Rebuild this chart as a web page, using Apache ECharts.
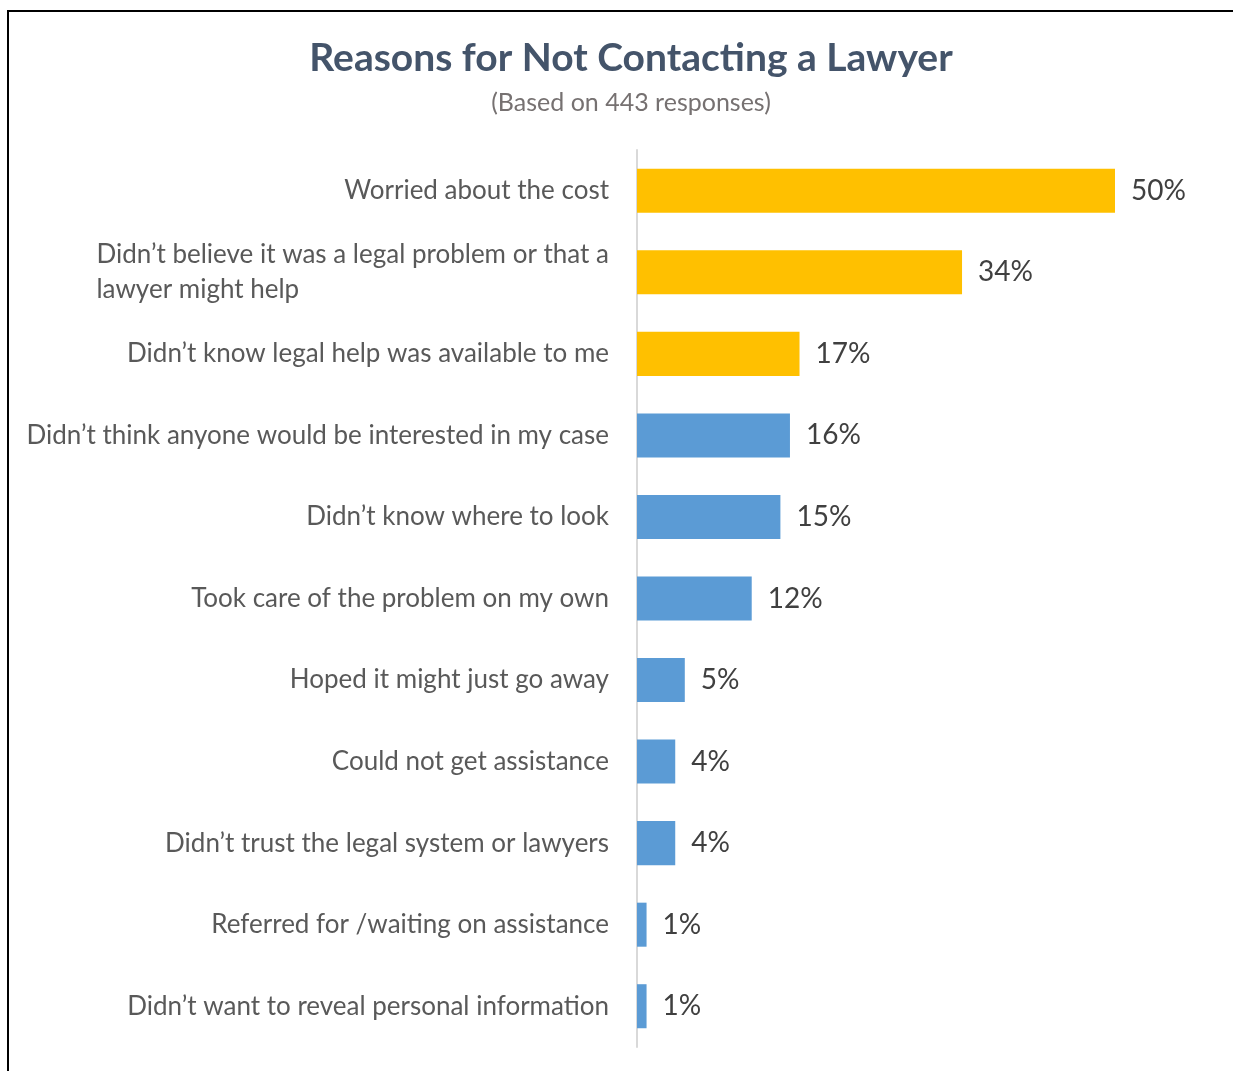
<!DOCTYPE html>
<html>
<head>
<meta charset="utf-8">
<script src="https://cdn.jsdelivr.net/npm/echarts@6/dist/echarts.min.js"></script>
<style>
  html, body { margin: 0; padding: 0; background: #ffffff; }
  #chart { width: 1233px; height: 1071px; }
</style>
</head>
<body>
<div id="chart"></div>
<script>
// Survey reasons, top to bottom
const categories = [
  "Worried about the cost",
  "Didn\u2019t believe it was a legal problem or that a\nlawyer might help",
  "Didn\u2019t know legal help was available to me",
  "Didn\u2019t think anyone would be interested in my case",
  "Didn\u2019t know where to look",
  "Took care of the problem on my own",
  "Hoped it might just go away",
  "Could not get assistance",
  "Didn\u2019t trust the legal system or lawyers",
  "Referred for /waiting on assistance",
  "Didn\u2019t want to reveal personal information"
];
// Share of respondents (%)
const shares = [50, 34, 17, 16, 15, 12, 5, 4, 4, 1, 1];

const titleText = "Reasons for Not Contacting a Lawyer";
const subtitleText = "(Based on 443 responses)";

// The leading reasons are drawn in gold, the rest in blue
const leadingCount = 3;
const GOLD = "#FFC000";
const BLUE = "#5B9BD5";
const FONT = "Lato, 'Open Sans', sans-serif";

const chart = echarts.init(document.getElementById("chart"), null, { renderer: "canvas" });

chart.setOption({
  backgroundColor: "#ffffff",
  animation: false,
  graphic: [{
    type: "rect",
    shape: { x: 8, y: 11, width: 1260, height: 1100 },
    style: { fill: "none", stroke: "#000000", lineWidth: 2 },
    silent: true
  }],
  title: {
    text: titleText,
    subtext: subtitleText,
    left: 626,
    textAlign: "center",
    top: 34,
    itemGap: 12,
    textStyle: { fontFamily: FONT, fontSize: 39, fontWeight: "bold", color: "#44546A" },
    subtextStyle: { fontFamily: FONT, fontSize: 25, color: "#767171" }
  },
  grid: { left: 637, right: 118, top: 150, bottom: 24, containLabel: false },
  xAxis: {
    type: "value",
    min: 0,
    max: 50,
    show: false
  },
  yAxis: {
    type: "category",
    data: categories,
    inverse: true,
    axisLine: { show: true, lineStyle: { color: "#D9D9D9", width: 2 } },
    axisTick: { show: false },
    splitLine: { show: false },
    axisLabel: {
      margin: 28,
      fontFamily: FONT,
      fontSize: 26,
      color: "#595959",
      lineHeight: 35,
      formatter: function (v) {
        return v.split("\n").map(function (s) { return "{l|" + s + "}"; }).join("\n");
      },
      rich: {
        l: { align: "left", fontFamily: FONT, fontSize: 26, color: "#595959", lineHeight: 35 }
      }
    }
  },
  series: [{
    type: "bar",
    data: shares,
    barCategoryGap: "46%",
    itemStyle: {
      color: function (p) { return p.dataIndex < leadingCount ? GOLD : BLUE; }
    },
    label: {
      show: true,
      position: "right",
      distance: 16,
      formatter: "{c}%",
      fontFamily: FONT,
      fontSize: 28,
      color: "#404040"
    }
  }]
});
</script>
</body>
</html>
